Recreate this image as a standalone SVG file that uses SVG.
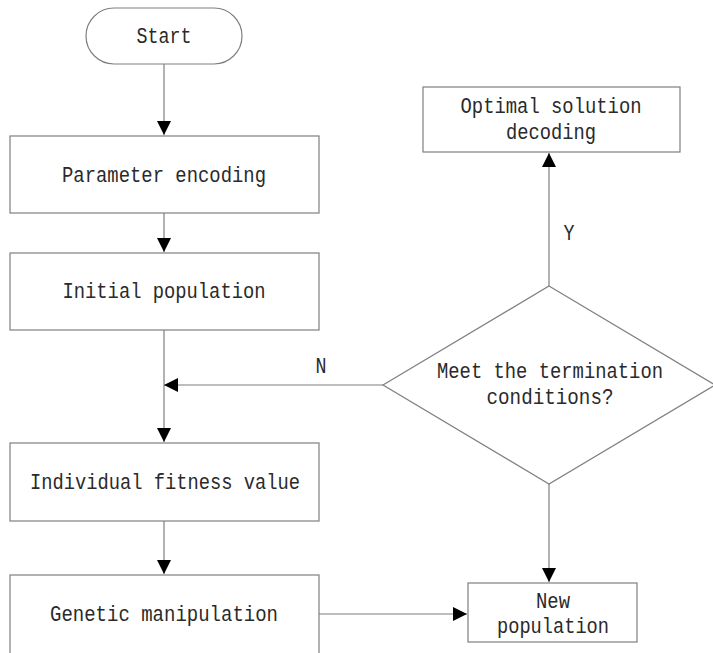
<svg xmlns="http://www.w3.org/2000/svg" width="713" height="653" viewBox="0 0 713 653">
<defs>
<style>
.box{fill:#fff;stroke:#7f7f7f;stroke-width:1.2}
.ln{fill:none;stroke:#7f7f7f;stroke-width:1.2}
.t{font-family:"Liberation Mono","DejaVu Sans Mono",monospace;font-size:22px;fill:#2a2a2a;text-anchor:middle}
</style>
<marker id="ah" viewBox="0 0 10 10" refX="10" refY="5" markerWidth="14" markerHeight="14" markerUnits="userSpaceOnUse" orient="auto">
<path d="M0,0 L10,5 L0,10 Z" fill="#000"/>
</marker>
</defs>
<rect width="713" height="653" fill="#fff"/>
<g id="connectors">
<line class="ln" x1="164" y1="64" x2="164" y2="135" marker-end="url(#ah)"/>
<line class="ln" x1="164" y1="213" x2="164" y2="252" marker-end="url(#ah)"/>
<line class="ln" x1="164" y1="330" x2="164" y2="442" marker-end="url(#ah)"/>
<line class="ln" x1="383" y1="385" x2="164" y2="385" marker-end="url(#ah)"/>
<line class="ln" x1="549" y1="286" x2="549" y2="153" marker-end="url(#ah)"/>
<line class="ln" x1="549" y1="484" x2="549" y2="582" marker-end="url(#ah)"/>
<line class="ln" x1="164" y1="521" x2="164" y2="574" marker-end="url(#ah)"/>
<line class="ln" x1="319" y1="614" x2="467" y2="614" marker-end="url(#ah)"/>
<text class="t" x="321" y="373" textLength="11" lengthAdjust="spacingAndGlyphs">N</text>
<text class="t" x="569" y="240" textLength="11" lengthAdjust="spacingAndGlyphs">Y</text>
</g>
<g id="start">
<rect class="box" x="86" y="8" width="156" height="56" rx="28" ry="28"/>
<text class="t" x="164" y="43" textLength="55" lengthAdjust="spacingAndGlyphs">Start</text>
</g>
<g id="param">
<rect class="box" x="10" y="136" width="309" height="77"/>
<text class="t" x="164" y="182" textLength="204" lengthAdjust="spacingAndGlyphs">Parameter encoding</text>
</g>
<g id="initial">
<rect class="box" x="10" y="253" width="309" height="77"/>
<text class="t" x="164" y="298" textLength="203" lengthAdjust="spacingAndGlyphs">Initial population</text>
</g>
<g id="fitness">
<rect class="box" x="10" y="443" width="309" height="78"/>
<text class="t" x="165" y="489" textLength="270" lengthAdjust="spacingAndGlyphs">Individual fitness value</text>
</g>
<g id="genetic">
<rect class="box" x="10" y="575" width="309" height="90"/>
<text class="t" x="164" y="621" textLength="228" lengthAdjust="spacingAndGlyphs">Genetic manipulation</text>
</g>
<g id="optimal">
<rect class="box" x="423" y="87" width="257" height="65"/>
<text class="t" x="551" y="113" textLength="181" lengthAdjust="spacingAndGlyphs">Optimal solution</text>
<text class="t" x="551" y="139" textLength="90" lengthAdjust="spacingAndGlyphs">decoding</text>
</g>
<g id="decision">
<polygon class="box" points="549,286 715,385 549,484 383,385"/>
<text class="t" x="550" y="378" textLength="226" lengthAdjust="spacingAndGlyphs">Meet the termination</text>
<text class="t" x="550" y="404" textLength="127" lengthAdjust="spacingAndGlyphs">conditions?</text>
</g>
<g id="newpop">
<rect class="box" x="468" y="583" width="169" height="59"/>
<text class="t" x="553" y="608" textLength="34" lengthAdjust="spacingAndGlyphs">New</text>
<text class="t" x="553" y="633" textLength="112" lengthAdjust="spacingAndGlyphs">population</text>
</g>
</svg>
